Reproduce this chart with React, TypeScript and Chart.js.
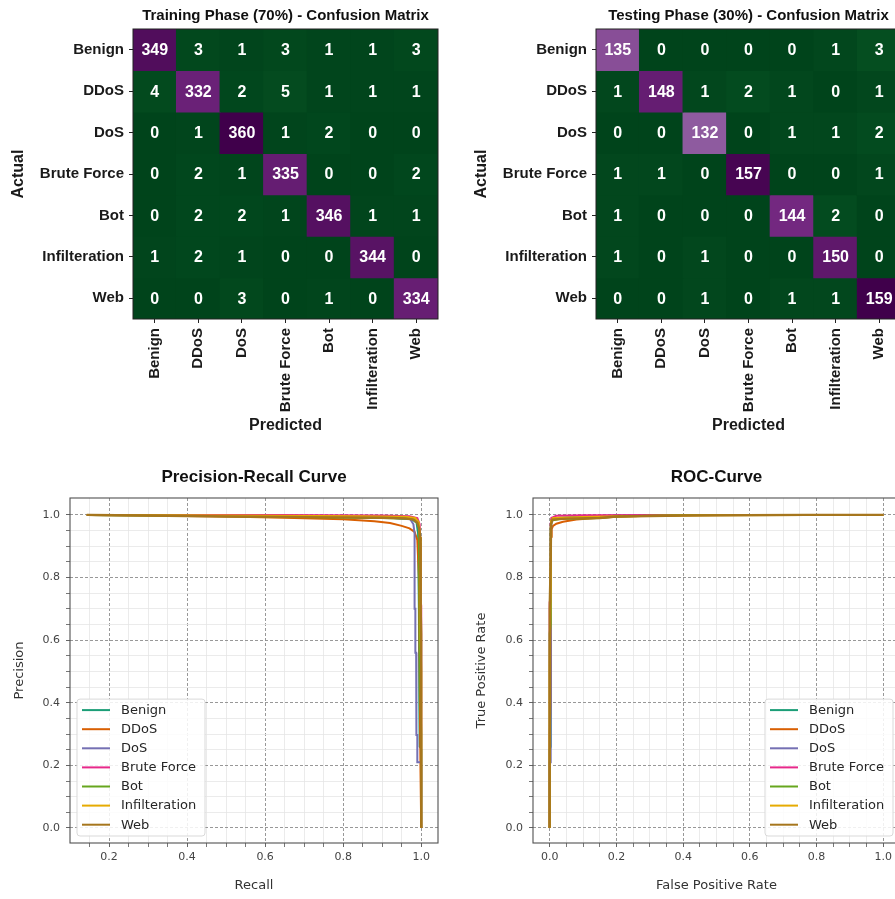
import React, { useEffect, useRef } from "react";
import { Chart, registerables } from "chart.js";
Chart.register(...registerables);

// ---------- data ----------
const classLabels = ["Benign", "DDoS", "DoS", "Brute Force", "Bot", "Infilteration", "Web"];

const trainMatrix = [
  [349, 3, 1, 3, 1, 1, 3],
  [4, 332, 2, 5, 1, 1, 1],
  [0, 1, 360, 1, 2, 0, 0],
  [0, 2, 1, 335, 0, 0, 2],
  [0, 2, 2, 1, 346, 1, 1],
  [1, 2, 1, 0, 0, 344, 0],
  [0, 0, 3, 0, 1, 0, 334],
];

const testMatrix = [
  [135, 0, 0, 0, 0, 1, 3],
  [1, 148, 1, 2, 1, 0, 1],
  [0, 0, 132, 0, 1, 1, 2],
  [1, 1, 0, 157, 0, 0, 1],
  [1, 0, 0, 0, 144, 2, 0],
  [1, 0, 1, 0, 0, 150, 0],
  [0, 0, 1, 0, 1, 1, 159],
];

const seriesColors = ["#1b9e77", "#d95f02", "#7570b3", "#e7298a", "#66a61e", "#e6ab02", "#a6761d"];

// Precision-Recall curve points [x (Recall axis), y (Precision axis)]
const prBenign = [[0.143, 1], [0.35, 0.999], [0.6, 0.996], [0.8, 0.993], [0.93, 0.99], [0.975, 0.987], [0.988, 0.975], [0.992, 0.94], [0.994, 0.7], [0.995, 0.42], [0.996, 0.26], [0.999, 0.255], [1.0, 0.25], [1.0, 0]];
const prDDoS = [[0.143, 1], [0.3, 0.998], [0.5, 0.995], [0.65, 0.991], [0.8, 0.986], [0.88, 0.98], [0.92, 0.974], [0.95, 0.965], [0.97, 0.957], [0.983, 0.946], [0.99, 0.92], [0.994, 0.8], [0.996, 0.5], [0.998, 0.2], [1.0, 0]];
const prDoS = [[0.143, 1], [0.45, 0.998], [0.75, 0.994], [0.93, 0.99], [0.972, 0.986], [0.98, 0.97], [0.983, 0.94], [0.983, 0.7], [0.985, 0.7], [0.985, 0.56], [0.987, 0.56], [0.987, 0.415], [0.988, 0.415], [0.988, 0.297], [0.99, 0.297], [0.99, 0.21], [0.999, 0.21], [1.0, 0.2], [1.0, 0]];
const prBruteForce = [[0.143, 1], [0.64, 1], [0.9, 0.998], [0.97, 0.996], [0.99, 0.99], [0.996, 0.97], [0.998, 0.9], [0.999, 0.72], [1.0, 0.71], [1.0, 0]];
const prBot = [[0.143, 1], [0.4, 0.997], [0.7, 0.993], [0.9, 0.99], [0.975, 0.988], [0.99, 0.982], [0.994, 0.96], [0.995, 0.8], [0.996, 0.62], [0.998, 0.42], [1.0, 0.3], [1.0, 0]];
const prInfilteration = [[0.143, 1], [0.5, 0.998], [0.85, 0.996], [0.96, 0.994], [0.985, 0.99], [0.994, 0.975], [0.997, 0.93], [0.998, 0.85], [0.999, 0.6], [1.0, 0.5], [1.0, 0]];
const prWeb = [[0.143, 1], [0.3, 0.998], [0.5, 0.995], [0.7, 0.993], [0.9, 0.991], [0.96, 0.989], [0.98, 0.985], [0.99, 0.975], [0.995, 0.955], [0.997, 0.93], [0.998, 0.86], [0.999, 0.7], [1.0, 0.62], [1.0, 0]];

// ROC curve points [FPR, TPR]
const rocBenign = [[0, 0], [0, 0.25], [0.003, 0.26], [0.003, 0.95], [0.005, 0.985], [0.02, 0.99], [0.1, 0.995], [0.2, 0.998], [0.4, 1.0], [1, 1]];
const rocDDoS = [[0, 0], [0, 0.3], [0.003, 0.4], [0.004, 0.93], [0.006, 0.955], [0.01, 0.965], [0.02, 0.972], [0.04, 0.978], [0.08, 0.985], [0.14, 0.99], [0.2, 0.994], [0.3, 0.997], [0.4, 1.0], [1, 1]];
const rocDoS = [[0, 0], [0, 0.21], [0.003, 0.21], [0.003, 0.9], [0.005, 0.98], [0.02, 0.99], [0.15, 0.992], [0.2, 0.996], [0.45, 1.0], [1, 1]];
const rocBruteForce = [[0, 0], [0, 0.72], [0.002, 0.72], [0.003, 0.97], [0.005, 0.99], [0.02, 0.997], [0.1, 0.999], [0.38, 1.0], [1, 1]];
const rocBot = [[0, 0], [0, 0.62], [0.003, 0.65], [0.003, 0.96], [0.006, 0.982], [0.03, 0.987], [0.15, 0.99], [0.2, 0.995], [0.4, 1.0], [1, 1]];
const rocInfilteration = [[0, 0], [0, 0.5], [0.003, 0.8], [0.004, 0.98], [0.01, 0.99], [0.1, 0.993], [0.2, 0.996], [0.5, 0.999], [0.77, 1.0], [1, 1]];
const rocWeb = [[0, 0], [0, 0.7], [0.003, 0.85], [0.004, 0.97], [0.008, 0.985], [0.05, 0.988], [0.15, 0.99], [0.2, 0.995], [0.4, 0.998], [0.77, 1.0], [1, 1]];

const prSeries = [prBenign, prDDoS, prDoS, prBruteForce, prBot, prInfilteration, prWeb];
const rocSeries = [rocBenign, rocDDoS, rocDoS, rocBruteForce, rocBot, rocInfilteration, rocWeb];

const majorTickValues = [0, 0.2, 0.4, 0.6, 0.8, 1.0];
const minorTickValues = [0, 0.05, 0.1, 0.15, 0.2, 0.25, 0.3, 0.35, 0.4, 0.45, 0.5, 0.55, 0.6, 0.65, 0.7, 0.75, 0.8, 0.85, 0.9, 0.95, 1.0];

// ---------- styling helpers ----------
const FONT_ARIAL = '"Liberation Sans", Arial, sans-serif';
const FONT_DJ = '"DejaVu Sans", sans-serif';

const prgnStops = ["#40004b", "#762a83", "#9970ab", "#c2a5cf", "#e7d4e8", "#f7f7f7", "#d9f0d3", "#a6dba0", "#5aae61", "#1b7837", "#00441b"];
function hexToRgb(h: string) {
  return [parseInt(h.slice(1, 3), 16), parseInt(h.slice(3, 5), 16), parseInt(h.slice(5, 7), 16)];
}
function prgnR(t: number) {
  const u = 1 - Math.max(0, Math.min(1, t));
  const pos = u * 10;
  const i = Math.min(9, Math.floor(pos));
  const f = pos - i;
  const a = hexToRgb(prgnStops[i]);
  const b = hexToRgb(prgnStops[i + 1]);
  const c = a.map((v, k) => Math.round(v + (b[k] - v) * f));
  return `rgb(${c[0]},${c[1]},${c[2]})`;
}

function isMajor(v: any) {
  if (typeof v !== "number") return false;
  return majorTickValues.some((m) => Math.abs(m - v) < 1e-6);
}

const cellTextPlugin = {
  id: "cellText",
  afterDatasetsDraw(chart: any) {
    const ctx = chart.ctx;
    ctx.save();
    ctx.font = `bold 16px ${FONT_ARIAL}`;
    ctx.fillStyle = "#ffffff";
    ctx.textAlign = "center";
    ctx.textBaseline = "middle";
    chart.data.datasets.forEach((ds: any, i: number) => {
      const meta = chart.getDatasetMeta(i);
      meta.data.forEach((el: any, j: number) => {
        const p = el.getCenterPoint();
        ctx.fillText(String(ds.values[j]), p.x, p.y + 1);
      });
    });
    const a = chart.chartArea;
    ctx.strokeStyle = "#222";
    ctx.lineWidth = 1;
    ctx.strokeRect(a.left, a.top, a.right - a.left, a.bottom - a.top);
    ctx.restore();
  },
};

const frameLegendPlugin = {
  id: "frameLegend",
  afterDatasetsDraw(chart: any, _args: any, opts: any) {
    const ctx = chart.ctx;
    const a = chart.chartArea;
    ctx.save();
    ctx.strokeStyle = "#505050";
    ctx.lineWidth = 1.1;
    ctx.strokeRect(a.left, a.top, a.right - a.left, a.bottom - a.top);

    const ds = chart.data.datasets;
    const rowH = 19.1;
    const w = 128;
    const h = 11 + (ds.length - 1) * rowH + 11.3;
    const left = opts.side === "left" ? a.left + 7 : a.right - 7 - w;
    const top = a.bottom - 7 - h;
    ctx.beginPath();
    ctx.roundRect(left, top, w, h, 3);
    ctx.fillStyle = "rgba(255,255,255,0.85)";
    ctx.fill();
    ctx.strokeStyle = "#d9d9d9";
    ctx.lineWidth = 1;
    ctx.stroke();
    ctx.font = `13px ${FONT_DJ}`;
    ctx.textAlign = "left";
    ctx.textBaseline = "middle";
    ds.forEach((d: any, i: number) => {
      const y = top + 11 + i * rowH;
      ctx.beginPath();
      ctx.moveTo(left + 5, y);
      ctx.lineTo(left + 33, y);
      ctx.strokeStyle = d.borderColor;
      ctx.lineWidth = 2;
      ctx.stroke();
      ctx.fillStyle = "#262626";
      ctx.fillText(d.label, left + 44, y + 0.5);
    });
    ctx.restore();
  },
};

function heatmapConfig(matrix: number[][], title: string, yAxisWidth: number, yTitlePad: number, rightPad: number): any {
  const vmax = Math.max(...matrix.flat());
  const datasets = matrix.map((row, i) => ({
    label: classLabels[i],
    data: row.map(() => [i - 0.5, i + 0.5]),
    values: row,
    backgroundColor: row.map((v) => prgnR(v / vmax)),
    borderWidth: 0,
    barPercentage: 1,
    categoryPercentage: 1,
    grouped: false,
    inflateAmount: 0.6,
  }));
  const tickFont = { family: FONT_ARIAL, size: 15, weight: "bold" as const };
  const titleFont = { family: FONT_ARIAL, size: 16, weight: "bold" as const, lineHeight: 1.2 };
  return {
    type: "bar",
    data: { labels: classLabels, datasets },
    options: {
      responsive: false,
      animation: false,
      events: [],
      layout: { padding: { left: 0, right: rightPad, top: 0, bottom: 0 } },
      plugins: {
        legend: { display: false },
        tooltip: { enabled: false },
        title: {
          display: true,
          text: title,
          fullSize: false,
          color: "#111",
          font: { family: FONT_ARIAL, size: 15, weight: "bold", lineHeight: 1.2 },
          padding: { top: 7, bottom: 4 },
        },
      },
      scales: {
        x: {
          type: "category",
          offset: true,
          grid: { display: true, drawOnChartArea: false, drawTicks: true, tickLength: 4, tickColor: "#222", offset: false },
          border: { display: false },
          ticks: { autoSkip: false, minRotation: 90, maxRotation: 90, padding: 5, color: "#1a1a1a", font: tickFont },
          title: { display: true, text: "Predicted", color: "#1a1a1a", font: titleFont, padding: { top: 0, bottom: 15 } },
          afterFit: (s: any) => {
            s.height = 131;
          },
        },
        y: {
          type: "linear",
          min: -0.5,
          max: 6.5,
          reverse: true,
          afterBuildTicks: (s: any) => {
            s.ticks = classLabels.map((_, i) => ({ value: i }));
          },
          grid: { display: true, drawOnChartArea: false, drawTicks: true, tickLength: 4, tickColor: "#222" },
          border: { display: false },
          ticks: { autoSkip: false, padding: 5, color: "#1a1a1a", font: tickFont, callback: (v: any) => classLabels[v] ?? "" },
          title: { display: true, text: "Actual", color: "#1a1a1a", font: titleFont, padding: { top: yTitlePad, bottom: 0 } },
          afterFit: (s: any) => {
            s.width = yAxisWidth;
          },
        },
      },
    },
    plugins: [cellTextPlugin],
  };
}

function curveAxis(min: number, max: number, titleText: string, titlePad: any, tickPad: number, fit: (s: any) => void): any {
  return {
    type: "linear",
    min,
    max,
    afterBuildTicks: (s: any) => {
      s.ticks = minorTickValues.filter((v) => v > min + 1e-6 && v < max - 1e-6).map((v) => ({ value: v }));
    },
    ticks: {
      autoSkip: false,
      maxRotation: 0,
      padding: tickPad,
      color: "#444",
      font: { family: FONT_DJ, size: 11 },
      callback: (v: any) => (isMajor(v) ? Number(v).toFixed(1) : ""),
    },
    grid: {
      display: true,
      drawOnChartArea: true,
      drawTicks: true,
      tickLength: 4,
      tickColor: "#555",
      color: (c: any) => (isMajor(c.tick?.value) ? "#8c8c8c" : "#e6e6e6"),
      lineWidth: (c: any) => (isMajor(c.tick?.value) ? 0.9 : 0.8),
    },
    border: { display: false, dash: (c: any) => (isMajor(c.tick?.value) ? [3, 2] : []) },
    title: { display: true, text: titleText, color: "#333", font: { family: FONT_DJ, size: 13, lineHeight: 1.2 }, padding: titlePad },
    afterFit: fit,
  };
}

function curveConfig(series: number[][][], title: string, xTitle: string, yTitle: string, xMin: number, xMax: number, yAxisWidth: number, yTitlePad: number, rightPad: number, legendSide: string): any {
  const n = series.length;
  const datasets = series.map((pts, i) => ({
    label: classLabels[i],
    data: pts.map(([x, y]) => ({ x, y })),
    borderColor: seriesColors[i],
    backgroundColor: seriesColors[i],
    borderWidth: i === n - 1 ? 2.4 : 2,
    pointRadius: 0,
    showLine: true,
    tension: 0,
    order: n - 1 - i,
  }));
  return {
    type: "scatter",
    data: { datasets },
    options: {
      responsive: false,
      animation: false,
      events: [],
      layout: { padding: { left: 0, right: rightPad, top: 0, bottom: 0 } },
      plugins: {
        legend: { display: false },
        tooltip: { enabled: false },
        title: {
          display: true,
          text: title,
          fullSize: false,
          color: "#111",
          font: { family: FONT_ARIAL, size: 17, weight: "bold", lineHeight: 1.2 },
          padding: { top: 16.8, bottom: 10.8 },
        },
        frameLegend: { side: legendSide },
      },
      scales: {
        x: curveAxis(xMin, xMax, xTitle, { top: 0, bottom: 5.2 }, 4, (s: any) => {
          s.height = 56;
        }),
        y: curveAxis(-0.048, 1.054, yTitle, { top: yTitlePad, bottom: 0 }, 6, (s: any) => {
          s.width = yAxisWidth;
        }),
      },
    },
    plugins: [frameLegendPlugin],
  };
}

function ChartCanvas({ make, left, top, width, height }: { make: () => any; left: number; top: number; width: number; height: number }) {
  const ref = useRef<HTMLCanvasElement>(null);
  useEffect(() => {
    const chart = new Chart(ref.current as HTMLCanvasElement, make());
    return () => chart.destroy();
  }, []);
  return <canvas ref={ref} width={width} height={height} style={{ position: "absolute", left, top, width, height }} />;
}

export default function App() {
  return (
    <div style={{ position: "absolute", left: 0, top: 0, width: 895, height: 899, overflow: "hidden", background: "#fff" }}>
      <ChartCanvas make={() => heatmapConfig(trainMatrix, "Training Phase (70%) - Confusion Matrix", 133, 9.4, 12)} left={0} top={0} width={450} height={450} />
      <ChartCanvas make={() => heatmapConfig(testMatrix, "Testing Phase (30%) - Confusion Matrix", 146, 22.1, 9)} left={450} top={0} width={460} height={450} />
      <ChartCanvas make={() => curveConfig(prSeries, "Precision-Recall Curve", "Recall", "Precision", 0.1, 1.043, 70, 12.2, 12, "left")} left={0} top={450} width={450} height={449} />
      <ChartCanvas make={() => curveConfig(rocSeries, "ROC-Curve", "False Positive Rate", "True Positive Rate", -0.05, 1.05, 83, 24, 10, "right")} left={450} top={450} width={460} height={449} />
    </div>
  );
}
